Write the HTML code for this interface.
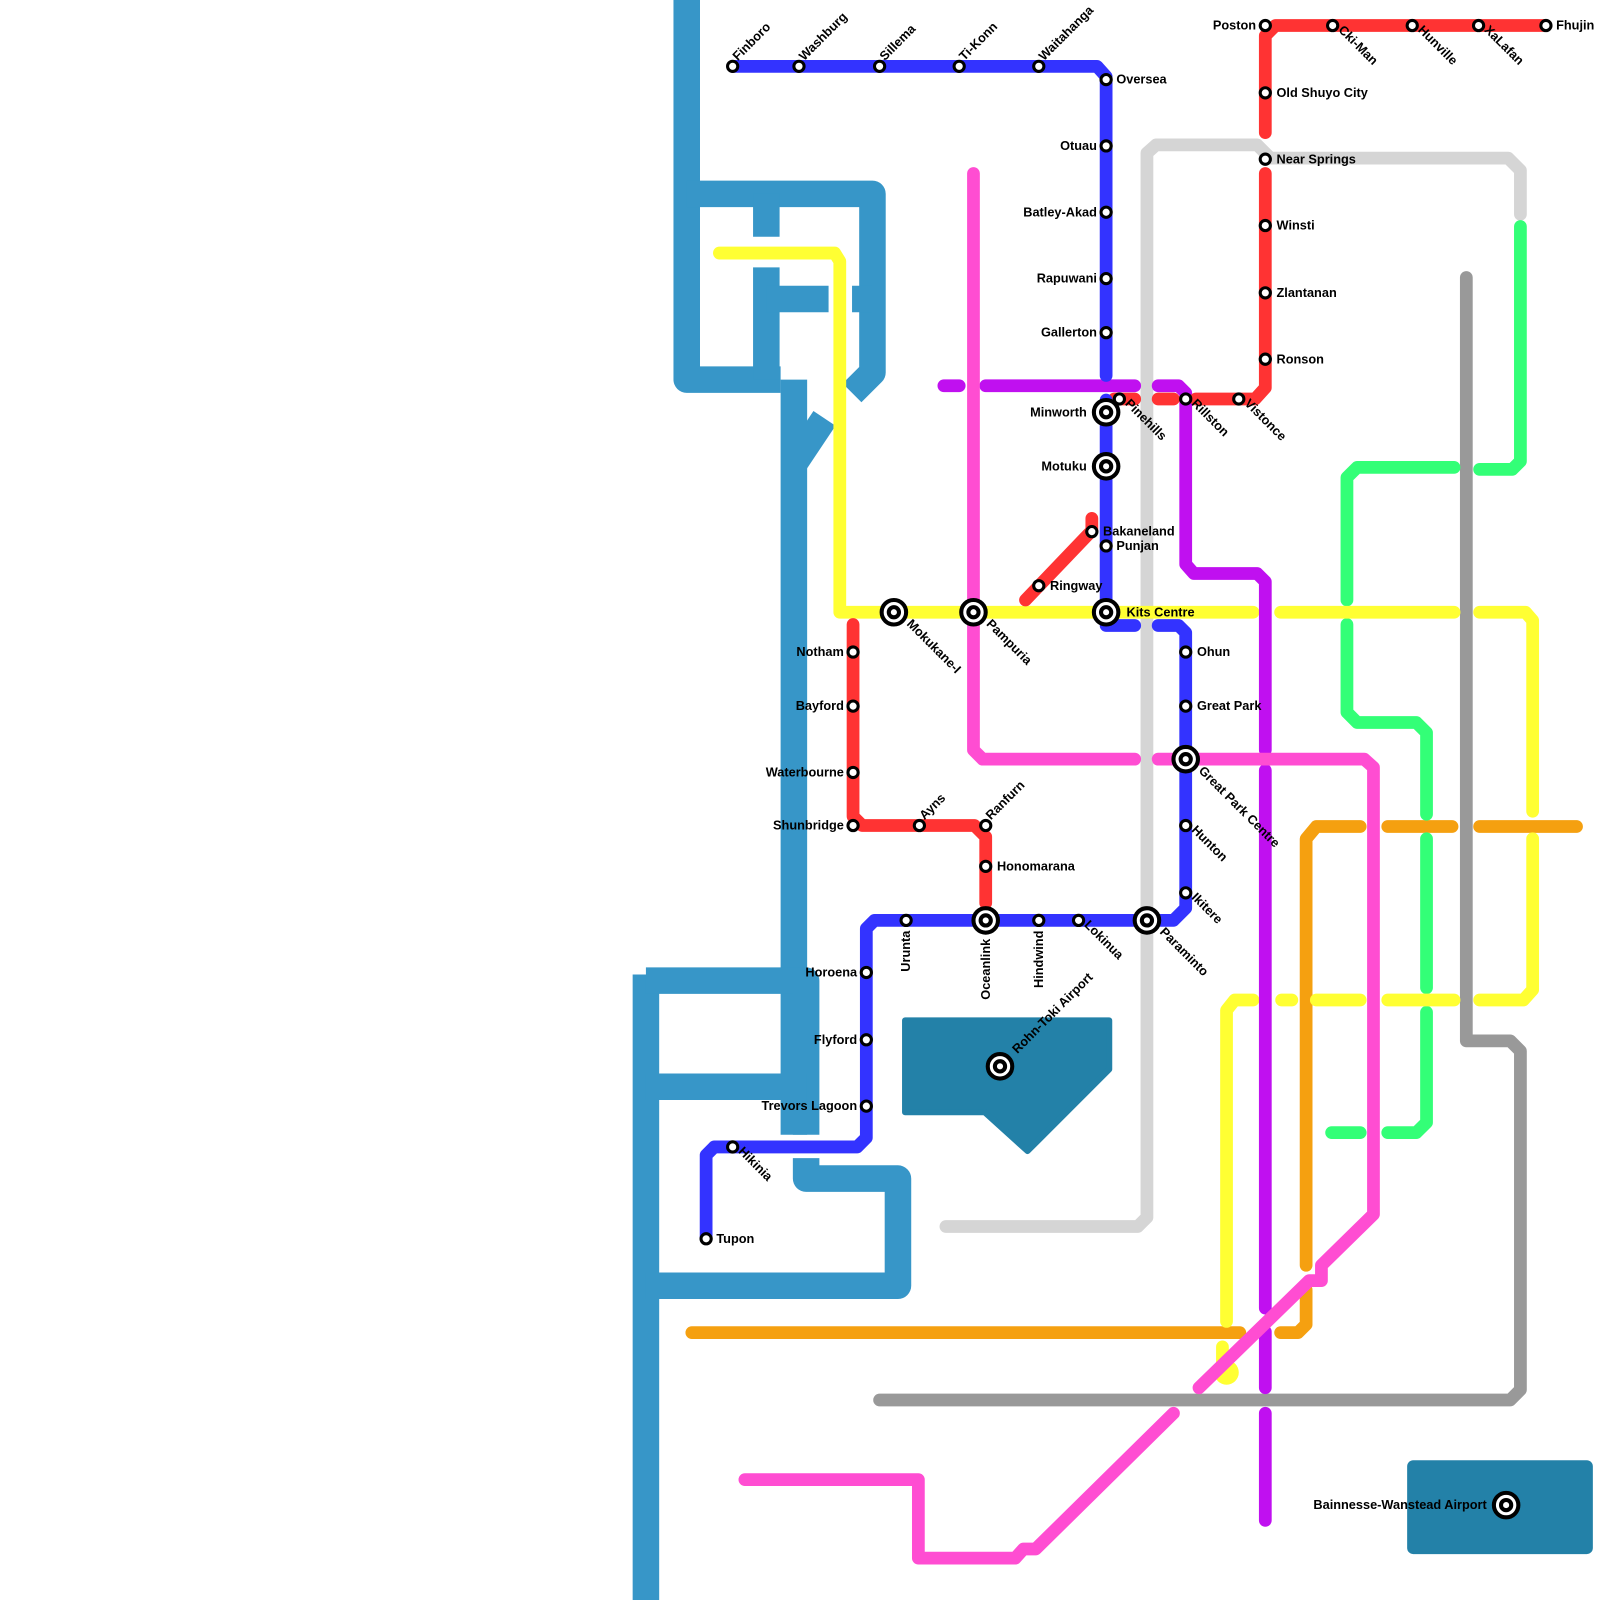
<!DOCTYPE html>
<html><head><meta charset="utf-8"><style>
html,body{margin:0;padding:0;background:#fff;}
svg{display:block;}
text{font-family:"Liberation Sans",sans-serif;font-weight:bold;font-size:12.5px;fill:#000;}
</style></head><body>
<svg width="1600" height="1600" viewBox="0 0 1568 1568" xmlns="http://www.w3.org/2000/svg">
<g fill="none" stroke="#3796c8" stroke-width="26" stroke-linejoin="round" stroke-linecap="butt">
<path d="M673,0 V372 H765"/>
<path d="M673,190 H855 V365 L835,385"/>
<path d="M751,190 V232"/>
<path d="M751,262 V372"/>
<path d="M751,293 H812"/>
<path d="M835,293 H855"/>
<path d="M778,372 V1112"/>
<path d="M778,455 L808,410"/>
<path d="M633,955 V1580"/>
<path d="M633,961 H790 V1112"/>
<path d="M633,1065 H790"/>
<path d="M633,1260 H880 V1155 H790 V1135"/>
</g>
<path d="M887,1000 H1087 V1048 L1007,1128 L965,1090 H887 Z" fill="#2381a8" stroke="#2381a8" stroke-width="6" stroke-linejoin="round"/>
<rect x="1379" y="1431" width="182" height="92" rx="6" fill="#2381a8"/>
<g fill="none" stroke-width="12.5" stroke-linejoin="round" stroke-linecap="round">
<path stroke="#d5d5d5" d="M927,1202 H1115 L1124,1193 V150 L1133,142 H1232 L1245,155 H1478 L1490,167 V210"/>
<path stroke="#999" d="M1437,272 V1020 H1480 L1490,1030 V1362 L1480,1372 H862"/>
<path stroke="#f5a010" d="M678,1306 H1215 M1255,1306 H1272 L1280,1298 V1264 M1280,1240 V822 L1290,810 H1333 M1360,810 H1423 M1450,810 H1545"/>
<path stroke="#33ff77" d="M1490,222 V452 L1482,460 H1450 M1425,458 H1330 L1320,468 V588 M1320,612 V698 L1330,708 H1388 L1398,718 V798 M1398,822 V968 M1398,992 V1100 L1388,1110 H1360 M1333,1110 H1305"/>
<path stroke="#ffff33" d="M705,248 H818 L823,256 V600 H1228 M1255,600 H1425 M1450,600 H1495 L1502,608 V795 M1502,822 V970 L1493,980 H1450 M1425,980 H1360 M1333,980 H1290 M1266,980 H1256 M1228,980 H1210 L1202,990 V1295"/>
<circle cx="1202" cy="1345" r="12" fill="#ffff33" stroke="none"/>
<path stroke="#ffff33" d="M1198,1320 V1335"/>
<path stroke="#c010f0" d="M925,378 H940 M966,378 H1112 M1135,378 H1155 L1162,385 V553 L1170,562 H1232 L1240,570 V735 M1240,755 V1282 M1240,1305 V1360 M1240,1385 V1490"/>
<path stroke="#ff3333" d="M1240,130 V35 L1250,25 H1515 M1240,170 V380 L1230,391 H1172 M1135,391 H1150 M1092,391 H1112 M1070,508 V520 L1005,588 M836,612 V800 L845,809 H955 L966,820 V885"/>
<path stroke="#ff4dd2" d="M954,170 V735 L963,744 H1112 M1135,744 H1337 L1346,752 V1190 L1295,1240 V1255 H1283 L1175,1360 M1150,1385 L1015,1518 H1003 L995,1527 H900 V1450 H730"/>
<path stroke="#3333ff" d="M718,65 H1075 L1084,75 V368 M1084,392 V613 H1112 M1135,613 H1155 L1162,620 V890 L1150,902 H857 L849,910 V1115 L840,1124 H700 L692,1132 V1214"/>
</g>
<g fill="#fff" stroke="#000" stroke-width="3">
<circle cx="718" cy="65" r="5"/><circle cx="783" cy="65" r="5"/><circle cx="862" cy="65" r="5"/><circle cx="940" cy="65" r="5"/><circle cx="1018" cy="65" r="5"/>
<circle cx="1084" cy="78" r="5"/><circle cx="1084" cy="143" r="5"/><circle cx="1084" cy="208" r="5"/><circle cx="1084" cy="273" r="5"/><circle cx="1084" cy="326" r="5"/>
<circle cx="1097" cy="391" r="5"/><circle cx="1070" cy="521" r="5"/><circle cx="1084" cy="535" r="5"/><circle cx="1018" cy="574" r="5"/>
<circle cx="1162" cy="391" r="5"/><circle cx="1214" cy="391" r="5"/>
<circle cx="1240" cy="25" r="5"/><circle cx="1306" cy="25" r="5"/><circle cx="1384" cy="25" r="5"/><circle cx="1449" cy="25" r="5"/><circle cx="1515" cy="25" r="5"/>
<circle cx="1240" cy="91" r="5"/><circle cx="1240" cy="156" r="5"/><circle cx="1240" cy="221" r="5"/><circle cx="1240" cy="287" r="5"/><circle cx="1240" cy="352" r="5"/>
<circle cx="836" cy="639" r="5"/><circle cx="836" cy="692" r="5"/><circle cx="836" cy="757" r="5"/><circle cx="836" cy="809" r="5"/>
<circle cx="901" cy="809" r="5"/><circle cx="966" cy="809" r="5"/><circle cx="966" cy="849" r="5"/>
<circle cx="1162" cy="639" r="5"/><circle cx="1162" cy="692" r="5"/><circle cx="1162" cy="809" r="5"/><circle cx="1162" cy="875" r="5"/>
<circle cx="888" cy="902" r="5"/><circle cx="1018" cy="902" r="5"/><circle cx="1057" cy="902" r="5"/>
<circle cx="849" cy="953" r="5"/><circle cx="849" cy="1019" r="5"/><circle cx="849" cy="1084" r="5"/>
<circle cx="718" cy="1124" r="5"/><circle cx="692" cy="1214" r="5"/>
</g>
<g fill="#fff" stroke="#000" stroke-width="4">
<g transform="translate(1084,404)"><circle r="12"/><circle r="5"/></g>
<g transform="translate(1084,457)"><circle r="12"/><circle r="5"/></g>
<g transform="translate(1084,600)"><circle r="12"/><circle r="5"/></g>
<g transform="translate(876,600)"><circle r="12"/><circle r="5"/></g>
<g transform="translate(954,600)"><circle r="12"/><circle r="5"/></g>
<g transform="translate(1162,744)"><circle r="12"/><circle r="5"/></g>
<g transform="translate(966,902)"><circle r="12"/><circle r="5"/></g>
<g transform="translate(1124,902)"><circle r="12"/><circle r="5"/></g>
<g transform="translate(980,1045)"><circle r="12"/><circle r="5"/></g>
<g transform="translate(1476,1475)"><circle r="12"/><circle r="5"/></g>
</g>
<g>
<text transform="translate(723,60) rotate(-45)">Finboro</text>
<text transform="translate(788,60) rotate(-45)">Washburg</text>
<text transform="translate(867,60) rotate(-45)">Sillema</text>
<text transform="translate(945,60) rotate(-45)">Ti-Konn</text>
<text transform="translate(1023,60) rotate(-45)">Waitahanga</text>
<text x="1094" y="82">Oversea</text>
<text x="1075" y="147" text-anchor="end">Otuau</text>
<text x="1075" y="212" text-anchor="end">Batley-Akad</text>
<text x="1075" y="277" text-anchor="end">Rapuwani</text>
<text x="1075" y="330" text-anchor="end">Gallerton</text>
<text x="1065" y="408" text-anchor="end">Minworth</text>
<text x="1065" y="461" text-anchor="end">Motuku</text>
<text transform="translate(1102,396) rotate(45)">Pinehills</text>
<text x="1081" y="525">Bakaneland</text>
<text x="1094" y="539">Punjan</text>
<text x="1029" y="578">Ringway</text>
<text x="1104" y="604">Kits Centre</text>
<text transform="translate(1167,396) rotate(45)">Rillston</text>
<text transform="translate(1219,396) rotate(45)">Vistonce</text>
<text x="1231" y="29" text-anchor="end">Poston</text>
<text transform="translate(1311,30) rotate(45)">Cki-Man</text>
<text transform="translate(1389,30) rotate(45)">Hunville</text>
<text transform="translate(1454,30) rotate(45)">XaLafan</text>
<text x="1525" y="29">Fhujin</text>
<text x="1251" y="95">Old Shuyo City</text>
<text x="1251" y="160">Near Springs</text>
<text x="1251" y="225">Winsti</text>
<text x="1251" y="291">Zlantanan</text>
<text x="1251" y="356">Ronson</text>
<text transform="translate(888,612) rotate(45)">Mokukane-I</text>
<text transform="translate(966,612) rotate(45)">Pampuria</text>
<text x="827" y="643" text-anchor="end">Notham</text>
<text x="827" y="696" text-anchor="end">Bayford</text>
<text x="827" y="761" text-anchor="end">Waterbourne</text>
<text x="827" y="813" text-anchor="end">Shunbridge</text>
<text transform="translate(906,804) rotate(-45)">Ayns</text>
<text transform="translate(971,804) rotate(-45)">Ranfurn</text>
<text x="977" y="853">Honomarana</text>
<text x="1173" y="643">Ohun</text>
<text x="1173" y="696">Great Park</text>
<text transform="translate(1174,756) rotate(45)">Great Park Centre</text>
<text transform="translate(1167,814) rotate(45)">Hunton</text>
<text transform="translate(1167,880) rotate(45)">Ikitere</text>
<text transform="translate(892,912) rotate(-90)" text-anchor="end">Urunta</text>
<text transform="translate(970,920) rotate(-90)" text-anchor="end">Oceanlink</text>
<text transform="translate(1022,912) rotate(-90)" text-anchor="end">Hindwind</text>
<text transform="translate(1062,907) rotate(45)">Lokinua</text>
<text transform="translate(1136,914) rotate(45)">Paraminto</text>
<text x="840" y="957" text-anchor="end">Horoena</text>
<text x="840" y="1023" text-anchor="end">Flyford</text>
<text x="840" y="1088" text-anchor="end">Trevors Lagoon</text>
<text transform="translate(723,1129) rotate(45)">Hikinia</text>
<text x="702" y="1218">Tupon</text>
<text transform="translate(997,1033) rotate(-45)">Rohn-Toki Airport</text>
<text x="1457" y="1479" text-anchor="end">Bainnesse-Wanstead Airport</text>
</g>
</svg>
</body></html>
